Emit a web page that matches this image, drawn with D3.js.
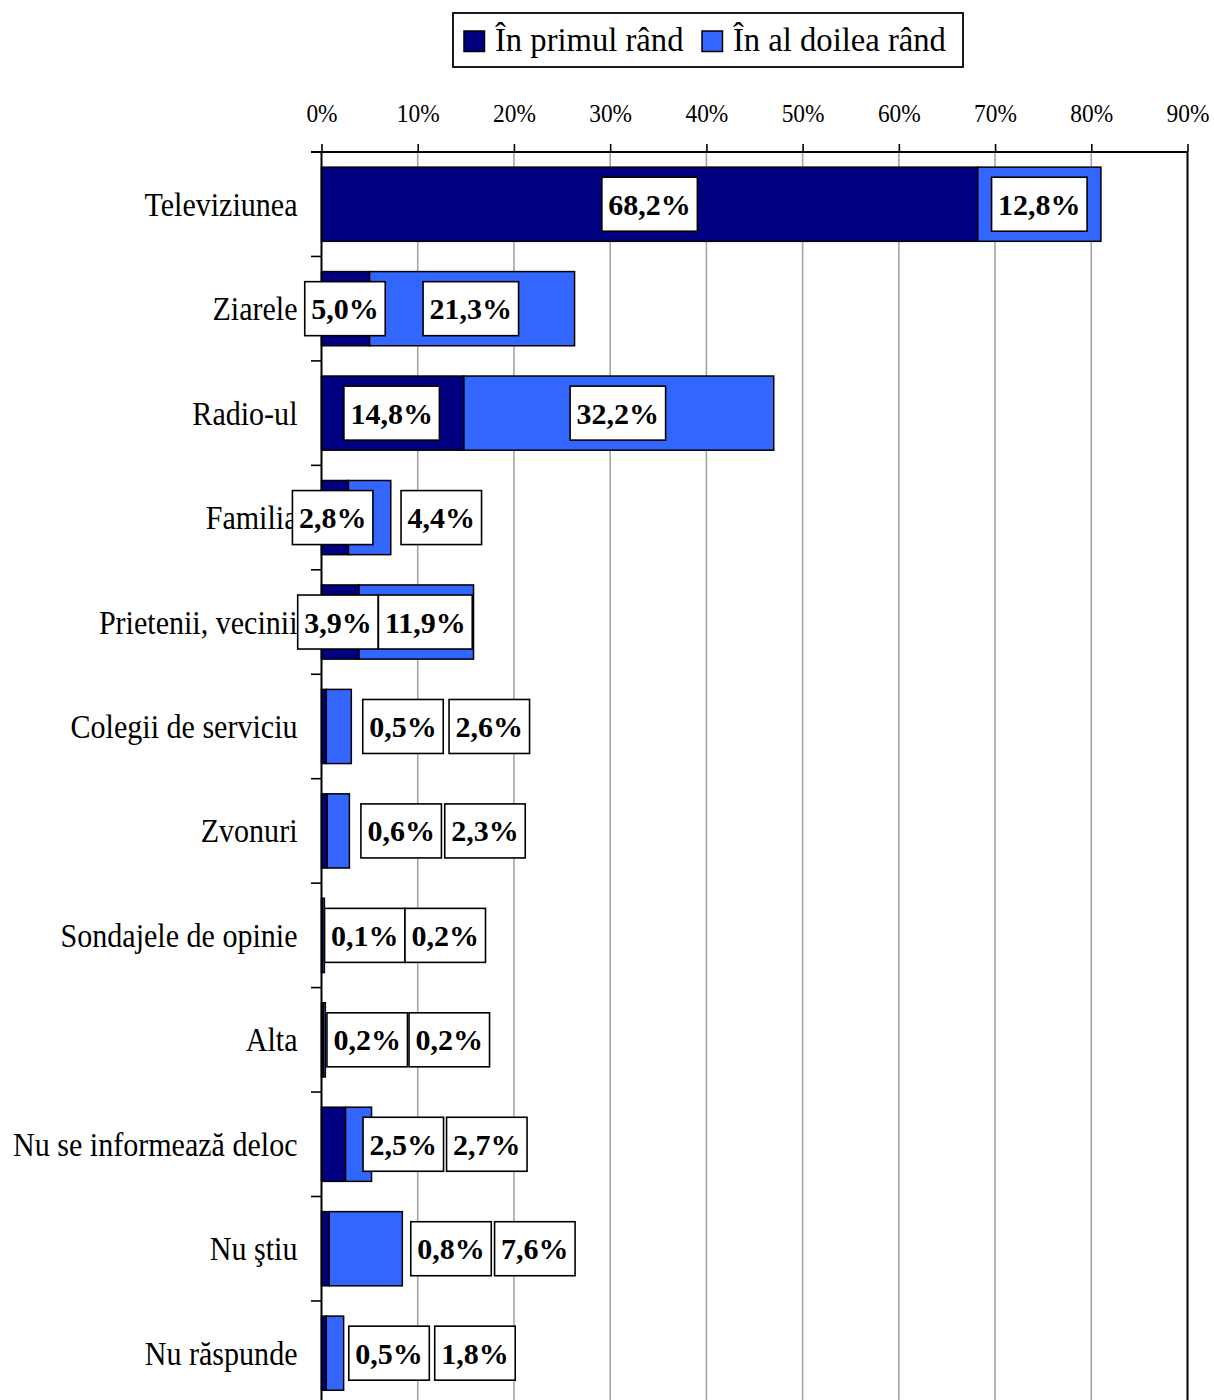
<!DOCTYPE html>
<html><head><meta charset="utf-8">
<script src="https://cdn.jsdelivr.net/npm/d3@7"></script>
<style>body{margin:0;background:#fff} svg{display:block}</style>
</head><body><svg id="c" width="1214" height="1400"></svg>
<script>
const categories = ["Televiziunea","Ziarele","Radio-ul","Familia","Prietenii, vecinii","Colegii de serviciu","Zvonuri","Sondajele de opinie","Alta","Nu se informează deloc","Nu ştiu","Nu răspunde"];
const primul   = [68.2, 5.0, 14.8, 2.8, 3.9, 0.5, 0.6, 0.1, 0.2, 2.5, 0.8, 0.5];
const alDoilea = [12.8, 21.3, 32.2, 4.4, 11.9, 2.6, 2.3, 0.2, 0.2, 2.7, 7.6, 1.8];
const seriesNames = ["În primul rând", "În al doilea rând"];
const xTicks = [0, 10, 20, 30, 40, 50, 60, 70, 80, 90];
// data-label anchor values (in % units along the axis), as placed in the original
const labelAtPrimul   = [34.1, 2.44, 7.29, 1.16, 1.71, 8.47, 8.28, 4.5, 4.75, 8.5, 13.46, 7.02];
const labelAtDoilea   = [74.6, 15.52, 30.8, 12.45, 10.79, 17.44, 16.99, 12.86, 13.28, 17.18, 22.17, 15.95];

const colors = ["#000080", "#3366FF"];
const FONT = "'Liberation Serif','Times New Roman',Times,serif";
const svg = d3.select("#c");

const yTop = 152, yBottom = 1405.4;
const x = d3.scaleLinear().domain([0, 90]).range([321.5, 1187.5]);
const y = d3.scaleBand().domain(categories).range([yTop, yBottom]).paddingInner(0.29).paddingOuter(0.145);
const step = y.step();

// gridlines
svg.append("g").selectAll("line").data(xTicks.filter(t => t > 0 && t < 90)).join("line")
  .attr("x1", d => x(d)).attr("x2", d => x(d)).attr("y1", yTop).attr("y2", yBottom)
  .attr("stroke", "#a6a6a6").attr("stroke-width", 1.6);

// bars
const rows = categories.map((c, i) => ({c, i, a: primul[i], b: alDoilea[i]}));
const gBars = svg.append("g");
gBars.selectAll("rect.p").data(rows).join("rect").attr("class", "p")
  .attr("x", d => x(0)).attr("width", d => x(d.a) - x(0))
  .attr("y", d => y(d.c)).attr("height", y.bandwidth())
  .attr("fill", colors[0]).attr("stroke", "#000").attr("stroke-width", 1.5);
gBars.selectAll("rect.s").data(rows).join("rect").attr("class", "s")
  .attr("x", d => x(d.a)).attr("width", d => x(d.a + d.b) - x(d.a))
  .attr("y", d => y(d.c)).attr("height", y.bandwidth())
  .attr("fill", colors[1]).attr("stroke", "#000").attr("stroke-width", 1.5);

// top axis
const xAxis = d3.axisTop(x).tickValues(xTicks).tickFormat(d => d + "%").tickSize(8).tickSizeOuter(0);
const gx = svg.append("g").attr("transform", `translate(0,${yTop})`).call(xAxis);
gx.select(".domain").remove();
gx.selectAll(".tick line").attr("stroke", "#000").attr("stroke-width", 1.6);
gx.selectAll(".tick text").attr("font-family", FONT).attr("font-size", 26).attr("fill", "#000")
  .attr("dy", 0).attr("y", -30).attr("transform", "scale(0.9,1)");
svg.append("line").attr("x1", 311).attr("x2", x(90)).attr("y1", yTop).attr("y2", yTop).attr("stroke", "#000").attr("stroke-width", 2);
svg.append("line").attr("x1", x(0)).attr("x2", x(0)).attr("y1", yTop).attr("y2", yBottom).attr("stroke", "#000").attr("stroke-width", 2);
svg.append("line").attr("x1", x(90)).attr("x2", x(90)).attr("y1", yTop).attr("y2", yBottom).attr("stroke", "#000").attr("stroke-width", 2);

// left axis (category) ticks at band boundaries + labels
const yAxis = d3.axisLeft(y).tickSize(0).tickPadding(24);
const gy = svg.append("g").attr("transform", `translate(${x(0)},0)`).call(yAxis);
gy.select(".domain").remove();
gy.selectAll(".tick text").attr("font-family", FONT).attr("font-size", 34).attr("fill", "#000")
  .attr("dy", "0.34em").attr("x", null).attr("transform", "translate(-24,0) scale(0.884,1)");
svg.append("g").selectAll("line").data(d3.range(1, categories.length + 1)).join("line")
  .attr("x1", 311).attr("x2", x(0)).attr("y1", k => yTop + k * step).attr("y2", k => yTop + k * step)
  .attr("stroke", "#000").attr("stroke-width", 1.6);

// data labels
const fmt = v => v.toFixed(1).replace(".", ",") + "%";
const labels = [];
rows.forEach(d => {
  labels.push({c: d.c, v: d.a, at: labelAtPrimul[d.i]});
  labels.push({c: d.c, v: d.b, at: labelAtDoilea[d.i]});
});
const gl = svg.append("g").selectAll("g").data(labels).join("g")
  .attr("transform", d => `translate(${x(d.at)},${y(d.c) + y.bandwidth() / 2})`);
const rectSel = gl.append("rect").attr("fill", "#fff").attr("stroke", "#000").attr("stroke-width", 1.6);
const txt = gl.append("text").text(d => fmt(d.v)).attr("text-anchor", "middle").attr("dy", "0.35em")
  .attr("font-family", FONT).attr("font-size", 30).attr("font-weight", "bold").attr("fill", "#000");
txt.each(function (d) { d.w = this.getComputedTextLength() + 13; });
rectSel.attr("x", d => -d.w / 2).attr("width", d => d.w).attr("y", -27).attr("height", 54);

// legend
const lg = svg.append("g");
lg.append("rect").attr("x", 453).attr("y", 13).attr("width", 510).attr("height", 54)
  .attr("fill", "#fff").attr("stroke", "#000").attr("stroke-width", 1.8);
const legX = [464, 702];
seriesNames.forEach((n, i) => {
  lg.append("rect").attr("x", legX[i]).attr("y", 31).attr("width", 20.5).attr("height", 20.5)
    .attr("fill", colors[i]).attr("stroke", "#000").attr("stroke-width", 1.5);
  lg.append("text").attr("transform", `translate(${legX[i] + 31},51) scale(0.96,1)`).text(n)
    .attr("font-family", FONT).attr("font-size", 34).attr("fill", "#000");
});
</script></body></html>
